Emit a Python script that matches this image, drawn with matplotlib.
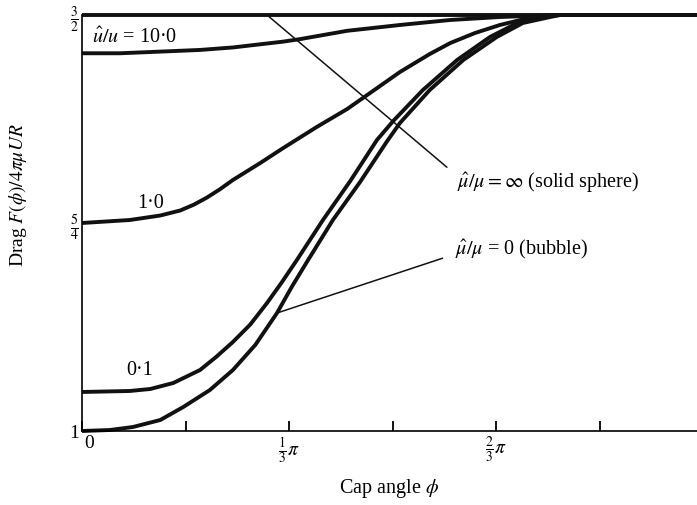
import numpy as np
import matplotlib
matplotlib.use('Agg')
import matplotlib.pyplot as plt
from matplotlib.transforms import ScaledTranslation

plt.rcParams['font.family'] = ['Liberation Serif', 'DejaVu Serif']
plt.rcParams['mathtext.fontset'] = 'stix'

# cap angle in units of pi, drag F/4*pi*mu*U*R
phi_10 = [0, 0.061, 0.126, 0.190, 0.243, 0.324, 0.351, 0.427, 0.512, 0.593, 0.673, 0.726, 0.770, 1.0]
drag_10 = [1.454, 1.454, 1.456, 1.458, 1.461, 1.468, 1.471, 1.481, 1.488, 1.494, 1.4976, 1.499, 1.5, 1.5]

phi_1 = [0, 0.077, 0.126, 0.158, 0.180, 0.201, 0.222, 0.243, 0.287, 0.324, 0.378, 0.427, 0.480,
         0.512, 0.560, 0.593, 0.633, 0.673, 0.726, 0.770, 1.0]
drag_1 = [1.250, 1.2536, 1.2590, 1.2650, 1.2720, 1.2805, 1.2905, 1.3017, 1.3221, 1.3401, 1.3654,
          1.3870, 1.4147, 1.4315, 1.4531, 1.4663, 1.4784, 1.4880, 1.4976, 1.5, 1.5]

phi_01 = [0, 0.077, 0.110, 0.147, 0.190, 0.216, 0.243, 0.271, 0.298, 0.322, 0.346, 0.388,
          0.432, 0.475, 0.501, 0.549, 0.604, 0.657, 0.701, 0.738, 0.765, 1.0]
drag_01 = [1.0469, 1.0481, 1.0505, 1.0577, 1.0733, 1.0890, 1.1070, 1.1280, 1.1539, 1.1790,
           1.2055, 1.2536, 1.3005, 1.3498, 1.3725, 1.4099, 1.4459, 1.4736, 1.4904, 1.4976, 1.5, 1.5]

phi_bub = [0, 0.045, 0.082, 0.126, 0.163, 0.206, 0.243, 0.279, 0.314, 0.338, 0.362, 0.404, 0.448,
           0.491, 0.512, 0.560, 0.614, 0.668, 0.710, 0.754, 0.770, 1.0]
drag_bub = [1.0, 1.0012, 1.0048, 1.0132, 1.0288, 1.0493, 1.0733, 1.1034, 1.1418, 1.1735, 1.2030,
            1.2536, 1.2995, 1.3480, 1.3702, 1.4099, 1.4459, 1.4736, 1.4904, 1.4976, 1.5, 1.5]

phi_solid = [0, 1.0]
drag_solid = [1.5, 1.5]

fig = plt.figure(figsize=(6.97, 5.05), dpi=100)
ax = fig.add_axes([82 / 697, 74 / 505, 621 / 697, 416 / 505])

for p, d in [(phi_solid, drag_solid), (phi_10, drag_10), (phi_1, drag_1),
             (phi_01, drag_01), (phi_bub, drag_bub)]:
    ax.plot(np.array(p) * np.pi, d, color='#111111', lw=2.8, clip_on=False,
            solid_capstyle='butt', solid_joinstyle='round')

ax.set_xlim(0, np.pi)
ax.set_ylim(1, 1.5)
ax.spines['top'].set_visible(False)
ax.spines['right'].set_visible(False)
ax.spines['left'].set_linewidth(1.2)
ax.spines['bottom'].set_linewidth(1.2)

ax.set_xticks(np.arange(7) * np.pi / 6)
ax.set_xticklabels(['0', '', r'$\frac{1}{3}\pi$', '', r'$\frac{2}{3}\pi$', '', r'$\pi$'], fontsize=14)
ax.tick_params(axis='x', direction='in', length=7, width=1.3, pad=3)
zero = ax.xaxis.get_major_ticks()[0].label1
zero.set_transform(zero.get_transform() + ScaledTranslation(0.07, 0, fig.dpi_scale_trans))
ax.set_yticks([1, 1.25, 1.5])
ax.set_yticklabels(['1', r'$\frac{5}{4}$', r'$\frac{3}{2}$'], fontsize=14)
ax.tick_params(axis='y', length=0, pad=2)

ax.text(0.016 * np.pi, 1.472, r'$\hat{u}/u$ = 10·0', fontsize=14.5, va='center')
ax.text(0.089 * np.pi, 1.274, '1·0', fontsize=14.5, va='center')
ax.text(0.072 * np.pi, 1.073, '0·1', fontsize=14.5, va='center')

ax.annotate(r'$\hat{\mu}/\mu = \infty$ (solid sphere)', xy=(0.298 * np.pi, 1.5),
            xytext=(0.604 * np.pi, 1.298), fontsize=14.5, va='center',
            arrowprops=dict(arrowstyle='-', lw=1.1, color='#111111',
                            relpos=(0, 0.8), shrinkA=7, shrinkB=0))
ax.annotate(r'$\hat{\mu}/\mu$ = 0 (bubble)', xy=(0.314 * np.pi, 1.1418),
            xytext=(0.600 * np.pi, 1.218), fontsize=14.5, va='center',
            arrowprops=dict(arrowstyle='-', lw=1.1, color='#111111',
                            relpos=(0, 0.3), shrinkA=7, shrinkB=0))

fig.text(18 / 697, 1 - 195 / 505, r'Drag $F(\phi)/4\pi\mu UR$', rotation=90,
         fontsize=14, ha='center', va='center')
fig.text(389 / 697, 1 - 489 / 505, r'Cap angle $\phi$', fontsize=14.5,
         ha='center', va='center')

fig.savefig('out.png', dpi=100)
